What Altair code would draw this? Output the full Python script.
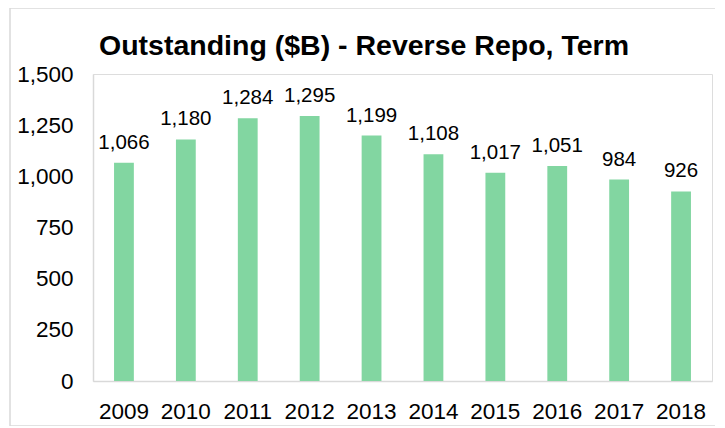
import altair as alt
import pandas as pd

years = ["2009", "2010", "2011", "2012", "2013", "2014", "2015", "2016", "2017", "2018"]
values = [1066, 1180, 1284, 1295, 1199, 1108, 1017, 1051, 984, 926]
y_ticks = [0, 250, 500, 750, 1000, 1250, 1500]
title_text = "Outstanding ($B) - Reverse Repo, Term"

df = pd.DataFrame({"year": years, "value": values})

FONT = "Liberation Sans"
BAR = "#82D6A1"
GRAY = "#D9D9D9"

x = alt.X("year:N", sort=years, title=None,
          scale=alt.Scale(paddingInner=0.68, paddingOuter=0.34),
          axis=alt.Axis(labelAngle=0, labelFontSize=22.5, labelFont=FONT, labelColor="#000000",
                        ticks=False, domainColor=GRAY, domainWidth=1.5, labelPadding=19))
y = alt.Y("value:Q", title=None,
          scale=alt.Scale(domain=[0, 1500], nice=False),
          axis=alt.Axis(values=y_ticks, format=",d", labelFontSize=22.5, labelFont=FONT,
                        labelColor="#000000", ticks=False, grid=False,
                        domainColor=GRAY, domainWidth=1.5, labelPadding=20))

bars = alt.Chart(df).mark_bar(color=BAR).encode(x=x, y=y)
labels = alt.Chart(df).mark_text(fontSize=20.5, font=FONT, color="#000000",
                                 baseline="alphabetic", dy=-14).encode(
    x=alt.X("year:N", sort=years), y=alt.Y("value:Q"), text=alt.Text("value:Q", format=",d"))

frame = alt.Chart(alt.Data(values=[{"a": 1}])).mark_rect(
    fillOpacity=0, stroke=GRAY, strokeWidth=1.5).encode(
    x=alt.value(-83), x2=alt.value(625), y=alt.value(-66), y2=alt.value(352))

chart = alt.layer(frame, bars, labels).properties(
    width=619, height=307,
    title=alt.TitleParams(title_text, font=FONT, fontSize=28.5, fontWeight="bold",
                          color="#000000", anchor="middle", frame="bounds", offset=-53),
    autosize=alt.AutoSizeParams(type="none"),
    padding={"left": 85, "top": 66, "right": 3, "bottom": 45},
).configure_view(stroke=None).configure(background="white")

chart.save("out.html", embed_options={"renderer": "svg", "actions": False})
